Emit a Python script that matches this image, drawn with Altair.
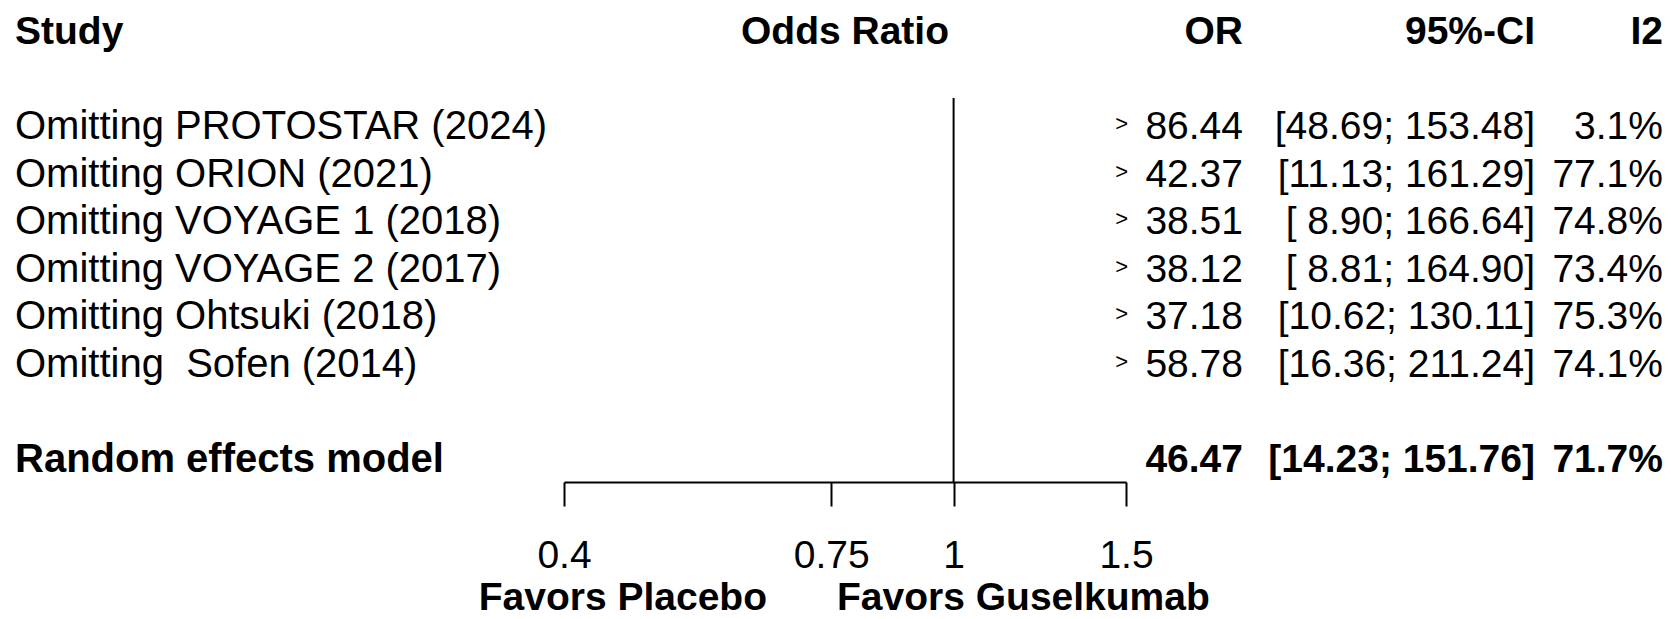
import altair as alt
import pandas as pd
import numpy as np

# ---------------- data ----------------
studies = [
    "Omitting PROTOSTAR (2024)",
    "Omitting ORION (2021)",
    "Omitting VOYAGE 1 (2018)",
    "Omitting VOYAGE 2 (2017)",
    "Omitting Ohtsuki (2018)",
    "Omitting\u00a0 Sofen (2014)",
]
or_vals = [86.44, 42.37, 38.51, 38.12, 37.18, 58.78]
ci_low = [48.69, 11.13, 8.90, 8.81, 10.62, 16.36]
ci_high = [153.48, 161.29, 166.64, 164.90, 130.11, 211.24]
i2_vals = [3.1, 77.1, 74.8, 73.4, 75.3, 74.1]

pooled_label = ["Random effects model"]
pooled_or = [46.47]
pooled_low = [14.23]
pooled_high = [151.76]
pooled_i2 = [71.7]

tick_values = [0.4, 0.75, 1, 1.5]
x_limits = [0.4, 1.5]
ref_value = [1]
header_cols = ["Study", "Odds Ratio", "OR", "95%-CI", "I2"]
favor_left = "Favors Placebo"
favor_right = "Favors Guselkumab"

# ---------------- layout ----------------
W, H = 1655, 474
FS = 39
FS_LABEL = 40
FONT = "Liberation Sans"
X_LABEL, X_OR, X_CI, X_I2 = 7, 1235, 1527, 1655
X_HEAD_CENTER = 837

def fmt_ci(lo, hi):
    return f"[{lo:5.2f}; {hi:6.2f}]"

df = pd.DataFrame({
    "label": studies,
    "row": list(range(2, 2 + len(studies))),
    "or": or_vals,
    "lo": ci_low,
    "hi": ci_high,
    "i2": i2_vals,
})
df["or_txt"] = df["or"].map(lambda v: f"{v:.2f}")
df["ci_txt"] = [fmt_ci(l, h) for l, h in zip(df["lo"], df["hi"])]
df["i2_txt"] = df["i2"].map(lambda v: f"{v:.1f}%")
# CI entirely beyond the right axis limit -> arrow drawn at the limit
df_arrow = df[df["lo"] > x_limits[1]].copy()
df_arrow["arrow_x"] = np.minimum(df_arrow["lo"], x_limits[1])

pooled_row = len(studies) + 3
dfp = pd.DataFrame({
    "label": pooled_label,
    "row": [pooled_row],
    "or_txt": [f"{v:.2f}" for v in pooled_or],
    "ci_txt": [fmt_ci(l, h) for l, h in zip(pooled_low, pooled_high)],
    "i2_txt": [f"{v:.1f}%" for v in pooled_i2],
})

dfh = pd.DataFrame({"label": header_cols, "row": [0] * len(header_cols)})

xscale = alt.Scale(type="log", domain=x_limits, range=[556, 1118], nice=False)
xaxis = alt.Axis(
    values=tick_values, format="~g", title=None, grid=False,
    tickSize=24, tickWidth=2, domainWidth=2, domainColor="black", tickColor="black",
    labelFont=FONT, labelFontSize=FS, labelColor="black", labelPadding=30,
    labelFlush=False, labelOverlap=False,
)
yscale = alt.Scale(domain=[-0.512, 9.467], reverse=True, nice=False, zero=False)
Y = alt.Y("row:Q", scale=yscale, axis=None)


def txt(data, field, x, align, bold=False, size=FS):
    return alt.Chart(data).mark_text(
        align=align, baseline="middle", font=FONT, fontSize=size,
        fontWeight="bold" if bold else "normal", color="black",
    ).encode(x=alt.value(x), y=Y, text=f"{field}:N")


layers = []
# reference line at OR = 1
layers.append(
    alt.Chart(pd.DataFrame({"x": ref_value})).mark_rule(color="black", strokeWidth=2).encode(
        x=alt.X("x:Q", scale=xscale, axis=xaxis), y=alt.value(90), y2=alt.value(H)
    )
)
# headers
layers.append(txt(dfh[dfh.label == "Study"], "label", X_LABEL, "left", True))
layers.append(txt(dfh[dfh.label == "Odds Ratio"], "label", X_HEAD_CENTER, "center", True))
layers.append(txt(dfh[dfh.label == "OR"], "label", X_OR, "right", True))
layers.append(txt(dfh[dfh.label == "95%-CI"], "label", X_CI, "right", True))
layers.append(txt(dfh[dfh.label == "I2"], "label", X_I2, "right", True))
# study rows
layers.append(txt(df, "label", X_LABEL, "left", size=FS_LABEL))
layers.append(txt(df, "or_txt", X_OR, "right"))
layers.append(txt(df, "ci_txt", X_CI, "right"))
layers.append(txt(df, "i2_txt", X_I2, "right"))
# pooled row
layers.append(txt(dfp, "label", X_LABEL, "left", True, size=FS_LABEL))
layers.append(txt(dfp, "or_txt", X_OR, "right", True))
layers.append(txt(dfp, "ci_txt", X_CI, "right", True))
layers.append(txt(dfp, "i2_txt", X_I2, "right", True))
# arrows for CIs beyond the axis
layers.append(
    alt.Chart(df_arrow).mark_text(
        align="right", baseline="middle", font=FONT, fontSize=22, color="black", dx=2, dy=-3
    ).encode(x=alt.X("arrow_x:Q", scale=xscale, axis=xaxis), y=Y, text=alt.value(">"))
)
# favours labels
fav = pd.DataFrame({"t": [favor_left, favor_right]})
layers.append(
    alt.Chart(fav[fav.t == favor_left]).mark_text(
        align="right", baseline="middle", font=FONT, fontSize=FS, fontWeight="bold", color="black"
    ).encode(x=alt.value(759), y=alt.value(590), text="t:N")
)
layers.append(
    alt.Chart(fav[fav.t == favor_right]).mark_text(
        align="left", baseline="middle", font=FONT, fontSize=FS, fontWeight="bold", color="black"
    ).encode(x=alt.value(829), y=alt.value(590), text="t:N")
)

chart = alt.layer(*layers).properties(
    width=W, height=H,
    autosize=alt.AutoSizeParams(type="none"),
    padding={"left": 0, "top": 0, "right": 0, "bottom": 137},
    background="white",
).configure_view(stroke=None)

chart.save("out.html", embed_options={"renderer": "svg", "actions": False})
